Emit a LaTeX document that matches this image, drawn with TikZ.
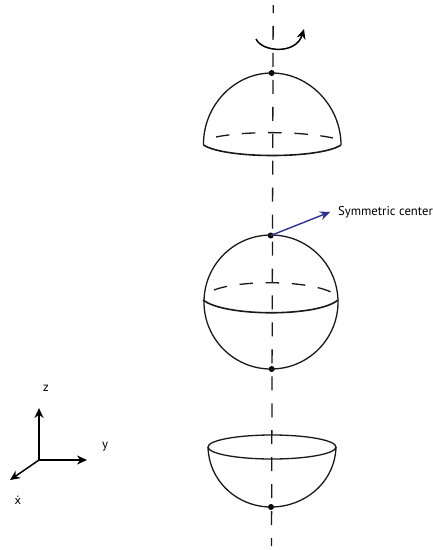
\documentclass[tikz,border=0pt]{standalone}
\usepackage{fontspec}
\setmainfont{PT Sans}
\newfontfamily\dotfont{DejaVu Sans}
\usetikzlibrary{arrows.meta,shapes.geometric}
\tikzset{
  x=1pt,y=-1pt,
  line/.style={draw=black!90,line width=1.3pt},
  thick line/.style={draw=black!90,line width=1.6pt},
  hidden/.style={draw=black!90,line width=1.3pt,dash pattern=on 13.5pt off 12.7pt},
  axisline/.style={draw=black!90,line width=1.3pt,dash pattern=on 14pt off 12.95pt,dash phase=6pt},
  dotnode/.style={circle,fill=black,inner sep=0pt,minimum size=6pt},
  label/.style={inner sep=0pt,font=\fontsize{12.7}{14}\selectfont},
  tip/.style={-{Stealth[length=10pt,width=9pt]}},
}
\begin{document}
\begin{tikzpicture}
\useasboundingbox (0,0) rectangle (433,550);
\fill[white] (0,0) rectangle (433,550);
% coordinates
\coordinate (axT) at (273.2,5);
\coordinate (axB) at (271.5,546);
\node[dotnode] (p1) at (271.7,73) {};
\node[dotnode] (p2) at (270.7,235.5) {};
\node[dotnode] (p3) at (271.7,369) {};
\node[dotnode] (p4) at (271,507) {};
% axis
\path[axisline] (axT) -- (axB);
% rotation arrow
\coordinate (rS) at (256,39);
\coordinate (rE) at (304,29);
\draw[line width=1.5pt,tip] (rS) .. controls (262,52) and (296,55) .. (rE);
% top dome
\draw[line] (203.5,145) .. controls (203,106) and (234,73) .. (p1.center) .. controls (309,73) and (341,106) .. (341,145);
\draw[thick line] (203.5,145) .. controls (225,159) and (320,159) .. (341,145);
\draw[hidden] (216,137) .. controls (245,131) and (300,131) .. (333,138);
% sphere
\node[circle,line,minimum size=134pt,inner sep=0pt] (sph) at (271,302) {};
\draw[thick line] (203,300) .. controls (225,317) and (318,317) .. (338,300);
\draw[hidden] (214,290) .. controls (240,280) and (305,280) .. (331,292);
% bowl
\node[ellipse,line,minimum width=128pt,minimum height=24pt,inner sep=0pt] (rim) at (272,447) {};
\draw[line] (208,447) .. controls (209,482) and (238,507) .. (p4.center) .. controls (305,507) and (335,482) .. (336,447);
% symmetric center
\node[label,anchor=west] (sc) at (338,212) {Symmetric center};
\coordinate (scT) at (330,212);
\draw[draw={rgb,255:red,46;green,49;blue,146},line width=1.4pt,tip] (p2.center) -- (scT);
% axes
\coordinate (o) at (39,460);
\coordinate (zT) at (39,408);
\coordinate (yT) at (87,460);
\coordinate (xT) at (10,480);
\draw[line width=1.5pt,tip] (o) -- (zT);
\draw[line width=1.5pt,tip] (o) -- (yT);
\draw[line width=1.5pt,tip] (o) -- (xT);
\node[label] (zl) at (46,388) {z};
\node[label] (yl) at (105,447) {y};
\node[label] (xl) at (18,500) {{\dotfont\fontsize{11}{13}\selectfont ẋ}};
\end{tikzpicture}
\end{document}
